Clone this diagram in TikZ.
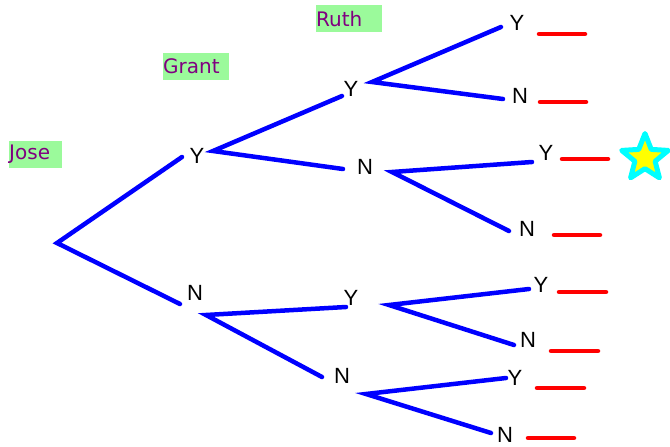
\documentclass[tikz,border=0pt]{standalone}
\usepackage{fontspec}
\setmainfont{DejaVu Sans}
\newfontfamily\ynfont{Liberation Sans}
\usetikzlibrary{shapes.geometric}
\definecolor{boxgreen}{RGB}{155,250,155}
\definecolor{namepurple}{RGB}{128,0,128}
\definecolor{treeblue}{RGB}{0,0,255}
\definecolor{blankred}{RGB}{255,0,0}
\definecolor{starcyan}{RGB}{0,255,255}
\definecolor{staryellow}{RGB}{255,255,0}

\begin{document}
\begin{tikzpicture}[x=1pt, y=-1pt,
            branch/.style={treeblue, line width=4.5pt, line cap=round},
            blank/.style={blankred, line width=4.5pt, line cap=round},
            choice/.style={font=\ynfont\fontsize{22}{26}\selectfont, inner sep=0pt},
            namebox/.style={anchor=north west, fill=boxgreen, text=namepurple,
                font=\fontsize{20}{24}\selectfont, inner sep=0pt,
                minimum height=27pt, align=left}]
            \useasboundingbox (0, 0) rectangle (670, 447);
            \node [namebox, text width=53pt] (jose) at (9, 141) {Jose};
            \node [namebox, text width=66pt] (grant) at (163, 53) {Grant};
            \node [namebox, text width=66pt] (ruth) at (316, 5) {Ruth};
            \coordinate (root) at (57, 243);
            \node [choice] (gy) at (197, 156) {Y};
            \node [choice] (gn) at (195, 293) {N};
            \node [choice] (gyy) at (351, 89) {Y};
            \node [choice] (gyn) at (365, 167) {N};
            \node [choice] (gny) at (351, 298) {Y};
            \node [choice] (gnn) at (342, 376) {N};
            \node [choice] (gyyy) at (517, 23) {Y};
            \node [choice] (gyyn) at (520, 96) {N};
            \node [choice] (gyny) at (546, 153) {Y};
            \node [choice] (gynn) at (527, 229) {N};
            \node [choice] (gnyy) at (541, 285) {Y};
            \node [choice] (gnyn) at (528, 340) {N};
            \node [choice] (gnny) at (515, 378) {Y};
            \node [choice] (gnnn) at (505, 435) {N};
            \coordinate (gy-in) at (182, 157);
            \coordinate (gy-out) at (213, 151);
            \coordinate (gn-in) at (180, 304);
            \coordinate (gn-out) at (206, 315);
            \coordinate (gyy-in) at (342, 96);
            \coordinate (gyy-out) at (372, 82);
            \coordinate (gyn-in) at (343, 169);
            \coordinate (gyn-out) at (392, 172);
            \coordinate (gny-in) at (346, 307);
            \coordinate (gny-out) at (389, 305);
            \coordinate (gnn-in) at (322, 377);
            \coordinate (gnn-out) at (366, 394);
            \coordinate (gyyy-in) at (501, 27);
            \coordinate (gyyn-in) at (503, 99);
            \coordinate (gyny-in) at (532, 162);
            \coordinate (gynn-in) at (509, 231);
            \coordinate (gnyy-in) at (529, 289);
            \coordinate (gnyn-in) at (514, 345);
            \coordinate (gnny-in) at (506, 378);
            \coordinate (gnnn-in) at (491, 433);
            \draw [branch] (gy-in) -- (root) -- (gn-in);
            \draw [branch] (gyy-in) -- (gy-out) -- (gyn-in);
            \draw [branch] (gny-in) -- (gn-out) -- (gnn-in);
            \draw [branch] (gyyy-in) -- (gyy-out) -- (gyyn-in);
            \draw [branch] (gyny-in) -- (gyn-out) -- (gynn-in);
            \draw [branch] (gnyy-in) -- (gny-out) -- (gnyn-in);
            \draw [branch] (gnny-in) -- (gnn-out) -- (gnnn-in);
            \draw [blank] (539, 34) -- (585, 34);
            \draw [blank] (540, 102) -- (586, 102);
            \draw [blank] (562, 159) -- (608, 159);
            \draw [blank] (554, 235) -- (600, 235);
            \draw [blank] (559, 292) -- (606, 292);
            \draw [blank] (551, 351) -- (598, 351);
            \draw [blank] (537, 388) -- (584, 388);
            \draw [blank] (528, 438) -- (574, 438);
            \node [star, star points=5, star point ratio=2.3, minimum size=49pt,
                inner sep=0pt, draw=starcyan, line width=5pt, line join=round,
                fill=staryellow] (prize) at (645, 158) {};
        \end{tikzpicture}
\end{document}
